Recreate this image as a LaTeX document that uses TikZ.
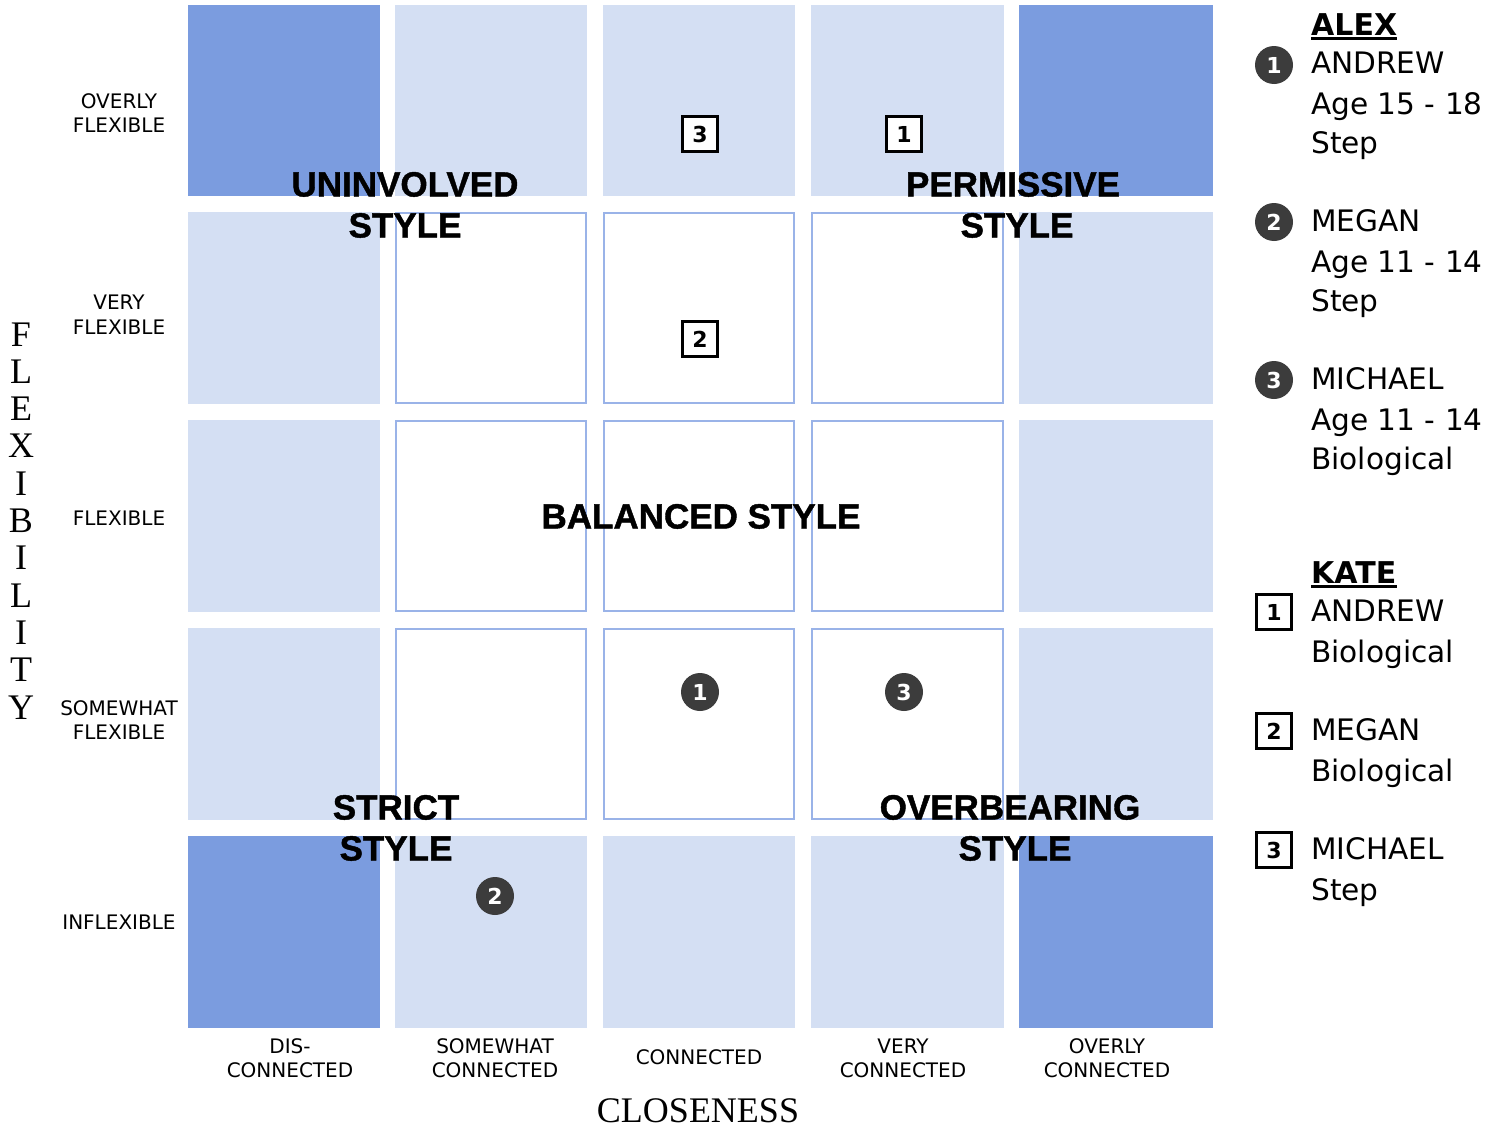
\documentclass[tikz,border=0pt]{standalone}
\usepackage{fontspec}
\setmainfont{DejaVu Sans}
\newfontfamily\serifax{Liberation Serif}
\newfontfamily\stylefont{Liberation Sans Bold}[FakeBold=1.2]
\definecolor{darkcell}{HTML}{7B9CDF}
\definecolor{lightcell}{HTML}{D4DFF3}
\definecolor{innerline}{HTML}{9AB3E8}
\definecolor{markgray}{HTML}{3C3C3C}
\begin{document}
\begin{tikzpicture}[x=1pt,y=-1pt,
  axlabel/.style={anchor=base,inner sep=0pt,font=\fontsize{20}{24}\selectfont},
  axtitle/.style={anchor=base,inner sep=0pt,font=\fontsize{36}{40}\serifax},
  stylelabel/.style={anchor=base,inner sep=0pt,font=\fontsize{35}{41}\stylefont},
  legtext/.style={anchor=base west,inner sep=0pt,font=\fontsize{29.6}{40}\selectfont},
  leghead/.style={anchor=base west,inner sep=0pt,font=\fontsize{30}{40}\selectfont\bfseries},
  circmark/.style={circle,fill=markgray,text=white,minimum size=38pt,inner sep=0pt,font=\fontsize{22}{22}\selectfont\bfseries},
  boxmark/.style={rectangle,draw=black,line width=3pt,fill=white,text=black,minimum size=35pt,inner sep=0pt,font=\fontsize{22}{22}\selectfont\bfseries},
  innercell/.style={fill=white,draw=innerline,line width=1.6pt}]
\useasboundingbox (0,0) rectangle (1499,1127);
\fill[white] (0,0) rectangle (1499,1127);
% cells
\foreach \xa/\xb in {188/380,395/587,603/795,811/1004,1019/1213}
  \foreach \ya/\yb in {5/196,212/404,420/612,628/820,836/1028}
    \fill[lightcell] (\xa,\ya) rectangle (\xb,\yb);
\foreach \xa/\xb in {188/380,1019/1213}
  \foreach \ya/\yb in {5/196,836/1028}
    \fill[darkcell] (\xa,\ya) rectangle (\xb,\yb);
\foreach \xa/\xb in {395/587,603/795,811/1004}
  \foreach \ya/\yb in {212/404,420/612,628/820}
    \draw[innercell] (\xa+0.8,\ya+0.8) rectangle (\xb-0.8,\yb-0.8);
% left labels
\node[axlabel] (l1a) at (119,108) {OVERLY};
\node[axlabel] (l1b) at (119,132) {FLEXIBLE};
\node[axlabel] (l2a) at (119,309) {VERY};
\node[axlabel] (l2b) at (119,334) {FLEXIBLE};
\node[axlabel] (l3) at (119,525) {FLEXIBLE};
\node[axlabel] (l4a) at (119,715) {SOMEWHAT};
\node[axlabel] (l4b) at (119,739) {FLEXIBLE};
\node[axlabel] (l5) at (119,929) {INFLEXIBLE};
% bottom labels
\node[axlabel] (b1a) at (290,1053) {DIS-};
\node[axlabel] (b1b) at (290,1077) {CONNECTED};
\node[axlabel] (b2a) at (495,1053) {SOMEWHAT};
\node[axlabel] (b2b) at (495,1077) {CONNECTED};
\node[axlabel] (b3) at (699,1064) {CONNECTED};
\node[axlabel] (b4a) at (903,1053) {VERY};
\node[axlabel] (b4b) at (903,1077) {CONNECTED};
\node[axlabel] (b5a) at (1107,1053) {OVERLY};
\node[axlabel] (b5b) at (1107,1077) {CONNECTED};
% axis titles
\foreach \ch [count=\i from 0] in {F,L,E,X,I,B,I,L,I,T,Y}
  \node[axtitle] (fl\i) at (21,346+37.3*\i) {\ch};
\node[axtitle] (close) at (698,1122) {CLOSENESS};
% markers
\node[boxmark] (k3) at (700,134) {3};
\node[boxmark] (k1) at (904,134) {1};
\node[boxmark] (k2) at (700,339) {2};
\node[circmark] (a1) at (700,692) {1};
\node[circmark] (a3) at (904,692) {3};
\node[circmark] (a2) at (495,896) {2};
% style labels
\node[stylelabel] (un1) at (405,196.5) {UNINVOLVED};
\node[stylelabel] (un2) at (405,237.5) {STYLE};
\node[stylelabel] (pe1) at (1013,196.5) {PERMISSIVE};
\node[stylelabel] (pe2) at (1017,237.5) {STYLE};
\node[stylelabel] (ba) at (701,528.5) {BALANCED STYLE};
\node[stylelabel] (st1) at (396,819.5) {STRICT};
\node[stylelabel] (st2) at (396,860.5) {STYLE};
\node[stylelabel] (ov1) at (1010,819.5) {OVERBEARING};
\node[stylelabel] (ov2) at (1015,860.5) {STYLE};
% legend ALEX
\node[leghead] (alex) at (1311,35) {ALEX};
\draw[line width=3pt] ([yshift=-3.5pt]alex.base west) -- ([yshift=-3.5pt]alex.base east);
\node[circmark] (la1) at (1274,65) {1};
\node[legtext] (la1a) at (1311,73.5) {ANDREW};
\node[legtext] (la1b) at (1311,114.5) {Age 15 - 18};
\node[legtext] (la1c) at (1311,153.5) {Step};
\node[circmark] (la2) at (1274,222) {2};
\node[legtext] (la2a) at (1311,231.5) {MEGAN};
\node[legtext] (la2b) at (1311,272.5) {Age 11 - 14};
\node[legtext] (la2c) at (1311,311.5) {Step};
\node[circmark] (la3) at (1274,380) {3};
\node[legtext] (la3a) at (1311,389.5) {MICHAEL};
\node[legtext] (la3b) at (1311,430.5) {Age 11 - 14};
\node[legtext] (la3c) at (1311,469.5) {Biological};
% legend KATE
\node[leghead] (kate) at (1311,583) {KATE};
\draw[line width=3pt] ([yshift=-3.5pt]kate.base west) -- ([yshift=-3.5pt]kate.base east);
\node[boxmark] (lk1) at (1274,612) {1};
\node[legtext] (lk1a) at (1311,621.5) {ANDREW};
\node[legtext] (lk1b) at (1311,662.5) {Biological};
\node[boxmark] (lk2) at (1274,731) {2};
\node[legtext] (lk2a) at (1311,740.5) {MEGAN};
\node[legtext] (lk2b) at (1311,781.5) {Biological};
\node[boxmark] (lk3) at (1274,850) {3};
\node[legtext] (lk3a) at (1311,859.5) {MICHAEL};
\node[legtext] (lk3b) at (1311,900.5) {Step};
\end{tikzpicture}
\end{document}
